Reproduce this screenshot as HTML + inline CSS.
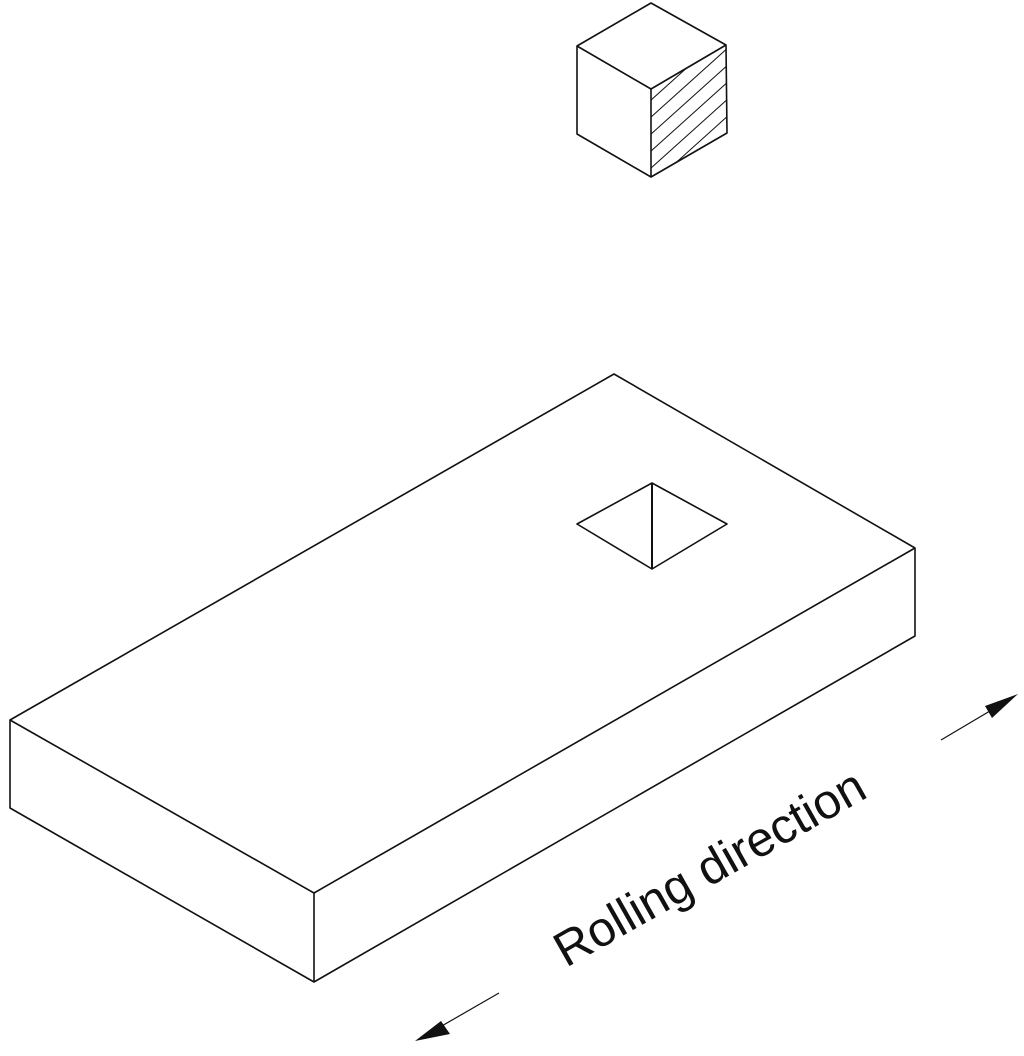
<!DOCTYPE html>
<html><head><style>
html,body{margin:0;padding:0;background:#fff;}
svg{display:block;}
</style></head><body>
<svg width="1024" height="1056" viewBox="0 0 1024 1056" xmlns="http://www.w3.org/2000/svg">
<defs>
<clipPath id="rf"><polygon points="651,89 726,45 727,133 651,177"/></clipPath>
</defs>
<g fill="none" stroke="#111" stroke-width="1.6" stroke-linejoin="round">
<polygon points="651,3 726,45 727,133 651,177 577,134 577,46"/>
<polyline points="577,46 651,89 726,45"/>
<line x1="651" y1="89" x2="651" y2="177"/>
<g clip-path="url(#rf)" stroke-width="1">
<line x1="640" y1="110" x2="740" y2="20"/>
<line x1="640" y1="127" x2="740" y2="37"/>
<line x1="640" y1="144" x2="740" y2="54"/>
<line x1="640" y1="161" x2="740" y2="71"/>
<line x1="640" y1="178" x2="740" y2="88"/>
<line x1="640" y1="195" x2="740" y2="105"/>
<line x1="640" y1="212" x2="740" y2="122"/>
<line x1="640" y1="229" x2="740" y2="139"/>
</g>
<polygon points="614,374 915,548 915,636 314,982 10,808 10,720"/>
<polyline points="10,720 314,893 915,548"/>
<line x1="314" y1="893" x2="314" y2="982"/>
<polygon points="652,483 727,524 652,569 577,524"/>
<line x1="652" y1="483" x2="652" y2="569" stroke-width="2"/>
<line x1="941" y1="740" x2="995" y2="708" stroke-width="1.2"/>
<line x1="499" y1="993" x2="440" y2="1027" stroke-width="1.2"/>
</g>
<polygon points="1018,694 985,706 992,718" fill="#111"/>
<polygon points="415,1041 441,1021 450,1034" fill="#111"/>
<text x="0" y="0" transform="translate(566,968) rotate(-29.5)" font-family="Liberation Sans, sans-serif" font-size="49" fill="#111">Rolling direction</text>
</svg>
</body></html>
